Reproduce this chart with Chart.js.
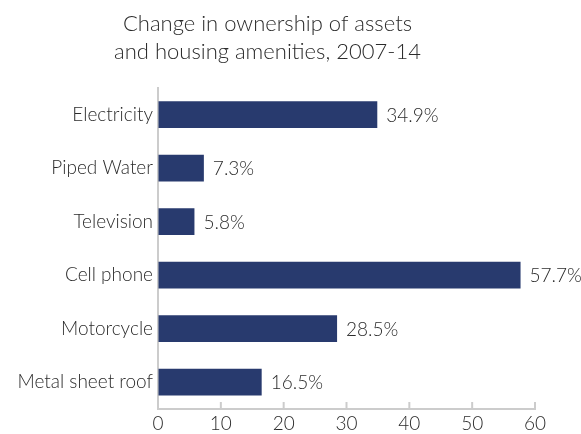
<!DOCTYPE html>
<html>
<head>
<meta charset="utf-8">
<script src="https://cdn.jsdelivr.net/npm/chart.js@4.4.1/dist/chart.umd.min.js"></script>
<style>
  html, body { margin: 0; padding: 0; background: #fff; }
  #wrap { width: 581px; height: 434px; }
</style>
</head>
<body>
<div id="wrap"><canvas id="assetChart"></canvas></div>
<script>
const categories = ["Electricity", "Piped Water", "Television", "Cell phone", "Motorcycle", "Metal sheet roof"];
const changeValues = [34.9, 7.3, 5.8, 57.7, 28.5, 16.5];
const xTicks = [0, 10, 20, 30, 40, 50, 60];

const textColor = "#2b2b2b";
const axisColor = "#cccccc";
const barColor = "#283a6e";
const fontFamily = "Lato, 'Open Sans', sans-serif";

// value labels at the end of each bar
const barLabels = {
    id: "barLabels",
    afterDatasetsDraw(chart) {
        const ctx = chart.ctx;
        const meta = chart.getDatasetMeta(0);
        ctx.save();
        ctx.font = "300 19px " + fontFamily;
        ctx.fillStyle = textColor;
        ctx.textAlign = "left";
        ctx.textBaseline = "middle";
        meta.data.forEach((bar, i) => {
            ctx.fillText(changeValues[i].toFixed(1) + "%", bar.x + 9, bar.y + 1);
        });
        ctx.restore();
    }
};

// small tick marks pointing up into the plot
const innerTicks = {
    id: "innerTicks",
    afterDraw(chart) {
        const ctx = chart.ctx;
        const x = chart.scales.x;
        ctx.save();
        ctx.strokeStyle = axisColor;
        ctx.lineWidth = 2;
        xTicks.forEach(v => {
            if (v === 0) return;
            const px = x.getPixelForValue(v);
            ctx.beginPath();
            ctx.moveTo(px, x.top);
            ctx.lineTo(px, x.top - 7);
            ctx.stroke();
        });
        ctx.restore();
    }
};

new Chart(document.getElementById("assetChart"), {
    type: "bar",
    data: {
        labels: categories,
        datasets: [{
            label: "Change",
            data: changeValues,
            backgroundColor: barColor,
            borderWidth: 0,
            barPercentage: 0.5,
            categoryPercentage: 1.0
        }]
    },
    options: {
        indexAxis: "y",
        responsive: true,
        maintainAspectRatio: false,
        animation: false,
        layout: { padding: { left: 0, right: 46, top: 6, bottom: 0 } },
        plugins: {
            legend: { display: false },
            tooltip: { enabled: false },
            title: {
                display: true,
                text: ["Change in ownership of assets", "and housing amenities, 2007-14"],
                color: textColor,
                font: { family: fontFamily, size: 22, weight: "300", lineHeight: 1.27 },
                padding: { top: 4, bottom: 22 }
            }
        },
        scales: {
            x: {
                min: 0,
                max: 60,
                afterBuildTicks(scale) {
                    scale.ticks = xTicks.map(v => ({ value: v }));
                },
                afterFit(scale) {
                    scale.height = 25;
                },
                grid: { display: true, drawOnChartArea: false, drawTicks: false },
                border: { display: true, color: axisColor, width: 2 },
                ticks: {
                    color: textColor,
                    padding: 3,
                    font: { family: fontFamily, size: 19, weight: "300" }
                }
            },
            y: {
                afterFit(scale) {
                    scale.width = 158;
                },
                grid: { display: false, drawTicks: false },
                border: { display: true, color: axisColor, width: 2 },
                ticks: {
                    color: textColor,
                    padding: 5,
                    font: { family: fontFamily, size: 19, weight: "300" }
                }
            }
        }
    },
    plugins: [barLabels, innerTicks]
});
</script>
</body>
</html>
